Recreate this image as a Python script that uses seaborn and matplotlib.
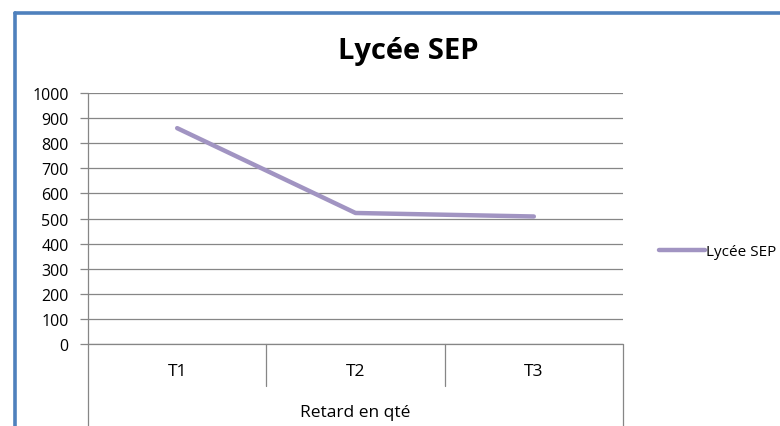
import matplotlib
matplotlib.use("Agg")
import matplotlib.pyplot as plt
import matplotlib.transforms as mtransforms
from matplotlib.lines import Line2D
import pandas as pd
import seaborn as sns

# Chart data
categories = ["T1", "T2", "T3"]
values = [860, 522, 508]
series_name = "Lycée SEP"
group_label = "Retard en qté"
title = "Lycée SEP"
y_ticks = list(range(0, 1001, 100))

sns.set_theme(style="white")
plt.rcParams['font.family'] = ['Open Sans', 'DejaVu Sans']
plt.rcParams['text.color'] = 'black'

df = pd.DataFrame({"pos": list(range(len(categories))), "value": values,
                   "serie": [series_name] * len(categories)})

W, H = 780, 427
fig = plt.figure(figsize=(W / 100, H / 100), dpi=100)
fig.patch.set_facecolor("white")

# plot area in pixel coords: x 88..623, y 94..345
ax = fig.add_axes([88 / W, 1 - 345 / H, (623 - 88) / W, (345 - 94) / H])
grid_c = "#868686"
line_c = "#A194C2"

sns.lineplot(data=df, x="pos", y="value", hue="serie", palette=[line_c],
             linewidth=3.2, ax=ax, legend=True)

ax.set_xlim(-0.5, len(categories) - 0.5)
ax.set_ylim(0, 1000)
ax.set_yticks(y_ticks)
ax.set_yticklabels([str(t) for t in y_ticks], fontsize=11.5, color="black")
ax.set_xticks([])
ax.set_xlabel("")
ax.set_ylabel("")
ax.yaxis.grid(True, color=grid_c, lw=0.9)
ax.set_axisbelow(True)
ax.tick_params(axis='y', left=True, length=6, width=0.9, color=grid_c,
               direction='out', pad=8)
for s in ["top", "right", "bottom", "left"]:
    ax.spines[s].set_visible(False)

# Category axis (two-level, Excel style)
axis_h = 345 - 94
blend = mtransforms.blended_transform_factory(ax.transData, ax.transAxes)
bottom = -(H - 345) / axis_h
ax.plot([0, 1], [0, 0], transform=ax.transAxes, color=grid_c, lw=0.9, clip_on=False, zorder=1)
ax.plot([0, 0], [1, bottom], transform=ax.transAxes, color=grid_c, lw=0.9, clip_on=False)
ax.plot([1, 1], [0, bottom], transform=ax.transAxes, color=grid_c, lw=0.9, clip_on=False)
for i in range(1, len(categories)):
    ax.plot([i - 0.5, i - 0.5], [0, -42 / axis_h], transform=blend, color=grid_c,
            lw=0.9, clip_on=False)
for i, cat in enumerate(categories):
    ax.text(i, -27 / axis_h, cat, transform=blend, ha="center", va="center",
            fontsize=12.5, color="black")
ax.text((len(categories) - 1) / 2, -68 / axis_h, group_label, transform=blend,
        ha="center", va="center", fontsize=12.5, color="black")

# Legend
sns.move_legend(ax, "center left", bbox_to_anchor=(645 / W, 1 - 253 / H),
                bbox_transform=fig.transFigure, frameon=False, title=None,
                fontsize=11, handlelength=3.0, handletextpad=0.1)

# Title
fig.text(408 / W, 1 - 52 / H, title, ha="center", va="center", fontsize=21,
         weight="bold", color="black")

# Blue frame of the chart object
frame_c = "#4F81BD"
fig.add_artist(Line2D([15 / W, 15 / W], [0, 1 - 14 / H], color=frame_c, lw=2.6,
                      transform=fig.transFigure))
fig.add_artist(Line2D([15 / W, 1], [1 - 14 / H, 1 - 14 / H], color=frame_c, lw=2.6,
                      transform=fig.transFigure))

fig.savefig("out.png", dpi=100)
